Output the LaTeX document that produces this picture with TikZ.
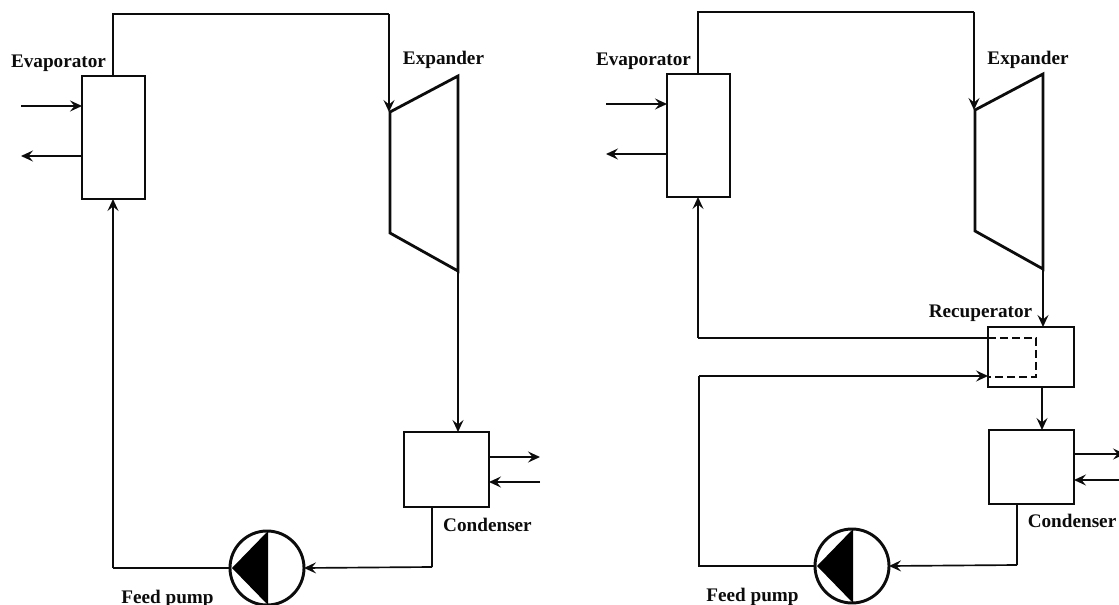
\documentclass[tikz,border=0pt]{standalone}
\usepackage{fontspec}
\setmainfont{Liberation Serif}
\usetikzlibrary{arrows.meta}
\definecolor{ink}{HTML}{0C0C0C}
\tikzset{
  x=0.75pt, y=-0.75pt,
  pipe/.style={draw=ink, line width=1.25pt, line join=miter},
  heavy/.style={draw=ink, line width=1.8pt},
  flow/.style={pipe, -{Stealth[length=12*0.75pt, width=11*0.75pt, inset=4.5*0.75pt]}},
  unit/.style={draw=ink, line width=2.2pt, fill=white, inner sep=0pt, outer sep=0pt, minimum width=#1*0.75pt},
  hgt/.style={minimum height=#1*0.75pt},
  lab/.style={font=\bfseries\fontsize{14.4pt}{16pt}\selectfont, text=ink, inner sep=0pt, anchor=base},
  pumpc/.style={circle, draw=ink, line width=2.2pt, fill=white, inner sep=0pt, outer sep=0pt, minimum size=74*0.75pt},
  dashpipe/.style={draw=ink, line width=2.1pt, dash pattern=on 6pt off 3pt},
  shell/.style={draw=ink, line width=2.1pt, line join=miter},
}
\begin{document}
\begin{tikzpicture}
\useasboundingbox (0,0) rectangle (1119,605);
\clip (0,0) rectangle (1119,605);
\fill[white] (0,0) rectangle (1119,605);

% ---------- LEFT CYCLE ----------
\node[unit=63, hgt=123] (evapA) at (113.5,137.5) {};
\node[unit=85, hgt=75] (condA) at (446.5,469.5) {};
\node[pumpc] (pumpA) at (267,568) {};
\coordinate (expAa) at (390,112);
\coordinate (expAb) at (458,76);
\coordinate (expAc) at (458,271);
\coordinate (expAd) at (390,233);
\coordinate (topAl) at (113,14);
\coordinate (topAr) at (389,14);
\coordinate (retA) at (113,568);
\coordinate (elbA) at (432,567);
\coordinate (hotAi) at (21,106);
\coordinate (hotAo) at (21,156);
\coordinate (cwAo) at (540,457);
\coordinate (cwAi) at (540,482);
\coordinate (tipAt) at (268,531);
\coordinate (tipAb) at (268,605);
\coordinate (tipAl) at (232,568);

\draw[shell] (expAa) -- (expAb) -- (expAc) -- (expAd) -- cycle;
\fill[black] (tipAl) -- (tipAt) -- (tipAb) -- cycle;

\draw[heavy] (evapA.north -| topAl) -- (topAl) -- (topAr);
\draw[flow] (topAr) -- (expAa -| topAr);
\draw[flow] (expAc) -- (expAc |- condA.north);
\draw[heavy] (condA.south -| elbA) -- (elbA);
\draw[flow] (elbA) -- (pumpA.east);
\draw[heavy] (pumpA.west) -- (retA);
\draw[flow] (retA) -- (retA |- evapA.south);
\draw[flow] (hotAi) -- (hotAi -| evapA.west);
\draw[flow] (hotAo -| evapA.west) -- (hotAo);
\draw[flow] (cwAo -| condA.east) -- (cwAo);
\draw[flow] (cwAi) -- (cwAi -| condA.east);

\node[lab] (labEvapA) at (58.5,68) {Evaporator};
\node[lab] (labExpA) at (443.5,65) {Expander};
\node[lab] (labCondA) at (487.5,531) {Condenser};
\node[lab] (labPumpA) at (167.5,603) {Feed pump};

% ---------- RIGHT CYCLE ----------
\node[unit=63, hgt=123] (evapB) at (698.5,135.5) {};
\node[unit=86, hgt=60] (recB) at (1031,357) {};
\node[unit=85, hgt=74] (condB) at (1031.5,467) {};
\node[pumpc] (pumpB) at (852,566) {};
\coordinate (expBa) at (975,110);
\coordinate (expBb) at (1043,74);
\coordinate (expBc) at (1043,269);
\coordinate (expBd) at (975,231);
\coordinate (topBl) at (698,12);
\coordinate (topBr) at (974,12);
\coordinate (retB) at (698,338);
\coordinate (dashBa) at (1036,338);
\coordinate (dashBb) at (1036,377);
\coordinate (feedB) at (699,376);
\coordinate (lowB) at (699,566);
\coordinate (elbB) at (1017,565);
\coordinate (hotBi) at (606,104);
\coordinate (hotBo) at (606,154);
\coordinate (cwBo) at (1125,454);
\coordinate (cwBi) at (1125,480);
\coordinate (linkB) at (1042,387);
\coordinate (tipBt) at (853,529);
\coordinate (tipBb) at (853,603);
\coordinate (tipBl) at (817,566);

\draw[shell] (expBa) -- (expBb) -- (expBc) -- (expBd) -- cycle;
\fill[black] (tipBl) -- (tipBt) -- (tipBb) -- cycle;

\draw[heavy] (evapB.north -| topBl) -- (topBl) -- (topBr);
\draw[flow] (topBr) -- (expBa -| topBr);
\draw[flow] (expBc) -- (expBc |- recB.north);
\draw[flow] (linkB) -- (linkB |- condB.north);
\draw[heavy] (condB.south -| elbB) -- (elbB);
\draw[flow] (elbB) -- (pumpB.east);
\draw[heavy] (pumpB.west) -- (lowB) -- (feedB);
\draw[flow] (feedB) -- (feedB -| recB.west);
\draw[heavy] (retB -| recB.west) -- (retB);
\draw[flow] (retB) -- (retB |- evapB.south);
\draw[dashpipe] (retB -| recB.west) -- (dashBa) -- (dashBb) -- (dashBb -| recB.west);
\draw[flow] (hotBi) -- (hotBi -| evapB.west);
\draw[flow] (hotBo -| evapB.west) -- (hotBo);
\draw[flow] (cwBo -| condB.east) -- (cwBo);
\draw[flow] (cwBi) -- (cwBi -| condB.east);

\node[lab] (labEvapB) at (643.5,66) {Evaporator};
\node[lab] (labExpB) at (1028,65) {Expander};
\node[lab] (labRec) at (980.5,318) {Recuperator};
\node[lab] (labCondB) at (1072,527) {Condenser};
\node[lab] (labPumpB) at (752.5,601) {Feed pump};
\end{tikzpicture}
\end{document}
